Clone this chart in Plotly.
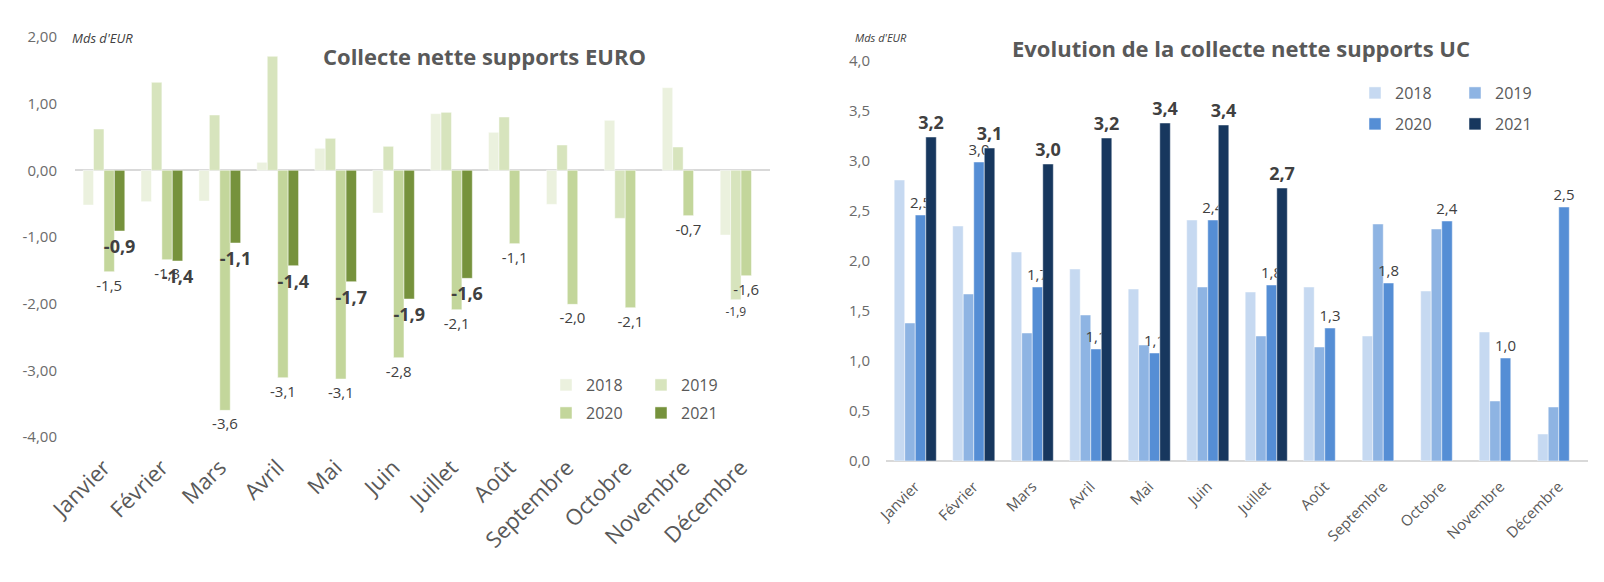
import plotly.graph_objects as go

months = ["Janvier", "Février", "Mars", "Avril", "Mai", "Juin", "Juillet",
          "Août", "Septembre", "Octobre", "Novembre", "Décembre"]
years = ["2018", "2019", "2020", "2021"]

# Collecte nette supports EURO (Mds d'EUR)
euro_2018 = [-0.52, -0.47, -0.46, 0.12, 0.33, -0.64, 0.85, 0.57, -0.51, 0.75, 1.24, -0.97]
euro_2019 = [0.62, 1.32, 0.83, 1.71, 0.48, 0.36, 0.87, 0.80, 0.38, -0.72, 0.35, -1.94]
euro_2020 = [-1.52, -1.34, -3.60, -3.11, -3.13, -2.81, -2.09, -1.10, -2.01, -2.06, -0.68, -1.58]
euro_2021 = [-0.91, -1.36, -1.09, -1.43, -1.67, -1.93, -1.62, None, None, None, None, None]

# Collecte nette supports UC (Mds d'EUR)
uc_2018 = [2.81, 2.35, 2.09, 1.92, 1.72, 2.41, 1.69, 1.74, 1.25, 1.70, 1.29, 0.27]
uc_2019 = [1.38, 1.67, 1.28, 1.46, 1.16, 1.74, 1.25, 1.14, 2.37, 2.32, 0.60, 0.54]
uc_2020 = [2.46, 2.99, 1.74, 1.12, 1.08, 2.41, 1.76, 1.33, 1.78, 2.40, 1.03, 2.54]
uc_2021 = [3.24, 3.13, 2.97, 3.23, 3.38, 3.36, 2.73, None, None, None, None, None]

euro_ticks = [-4, -3, -2, -1, 0, 1, 2]
euro_ticktext = ["-4,00", "-3,00", "-2,00", "-1,00", "0,00", "1,00", "2,00"]
uc_ticks = [0, 0.5, 1, 1.5, 2, 2.5, 3, 3.5, 4]
uc_ticktext = ["0,0", "0,5", "1,0", "1,5", "2,0", "2,5", "3,0", "3,5", "4,0"]

green = ["#EBF1DE", "#D7E4BD", "#C3D69B", "#76923C"]
blue = ["#C6D9F1", "#8EB4E3", "#558ED5", "#17375E"]

FONT = "Open Sans"
W, H = 1604, 582


def fmt(v):
    return "" if v is None else f"{v:.1f}".replace(".", ",")


def px_x(p):
    return p / W


def px_y(p):
    return 1 - p / H


fig = go.Figure()

euro_series = [euro_2018, euro_2019, euro_2020, euro_2021]
uc_series = [uc_2018, uc_2019, uc_2020, uc_2021]


def add_bar(yr, vals, color, text, tfont, xa, ya, leg):
    if text is not None:
        kw = dict(text=text, textposition="outside", textfont=tfont,
                  constraintext="none")
    else:
        kw = dict(textposition="none")
    fig.add_trace(go.Bar(
        x=months, y=vals, name=yr, marker_color=color,
        marker_line=dict(color="rgba(255,255,255,0.6)", width=0.8),
        cliponaxis=False, xaxis=xa, yaxis=ya, legend=leg,
        hoverinfo="x+y+name", **kw))


for i, (yr, vals) in enumerate(zip(years, euro_series)):
    text, tfont = None, None
    if i == 2:
        text = [fmt(v) for v in vals]
        tfont = dict(family=FONT, size=15, color="#404040")
    elif i == 3:
        text = [fmt(v) for v in vals]
        tfont = dict(family=FONT, size=18, color="#404040", weight="bold")
    elif i == 1:
        text = ["" if m != "Décembre" else fmt(v) for m, v in zip(months, vals)]
        tfont = dict(family=FONT, size=12, color="#404040")
    add_bar(yr, vals, green[i], text, tfont, "x", "y",
            "legend" if i < 2 else "legend2")

for i, (yr, vals) in enumerate(zip(years, uc_series)):
    text, tfont = None, None
    if i == 2:
        text = [fmt(v) for v in vals]
        tfont = dict(family=FONT, size=15, color="#404040")
    elif i == 3:
        text = [fmt(v) for v in vals]
        tfont = dict(family=FONT, size=18, color="#404040", weight="bold")
    add_bar(yr, vals, blue[i], text, tfont, "x2", "y2",
            "legend3" if i < 2 else "legend4")

legend_common = dict(orientation="h", bgcolor="rgba(0,0,0,0)",
                     font=dict(family=FONT, size=16, color="#595959"),
                     xanchor="left", yanchor="middle", itemclick=False,
                     traceorder="normal")

fig.update_layout(
    width=W, height=H,
    margin=dict(l=0, r=0, t=0, b=0, autoexpand=False),
    paper_bgcolor="white", plot_bgcolor="white",
    barmode="group", bargap=0.28, bargroupgap=0,
    font=dict(family=FONT, color="#595959"),
    xaxis=dict(domain=[px_x(75), px_x(770)], anchor="y", automargin=False,
               tickangle=-45, tickfont=dict(family=FONT, size=22, color="#595959"),
               showgrid=False, showline=False,
               ticks="outside", ticklen=8, tickcolor="rgba(0,0,0,0)"),
    yaxis=dict(domain=[px_y(437), px_y(37)], anchor="x", automargin=False,
               range=[-4, 2], tickvals=euro_ticks, ticktext=euro_ticktext,
               tickfont=dict(family=FONT, size=15, color="#6b6b6b"),
               showgrid=False, showline=False,
               ticks="outside", ticklen=14, tickcolor="rgba(0,0,0,0)",
               zeroline=True, zerolinecolor="#D9D9D9", zerolinewidth=1.5),
    xaxis2=dict(domain=[px_x(886), px_x(1588)], anchor="y2", automargin=False,
                tickangle=-45, tickfont=dict(family=FONT, size=15, color="#595959"),
                showgrid=False, showline=False,
                ticks="outside", ticklen=10, tickcolor="rgba(0,0,0,0)"),
    yaxis2=dict(domain=[px_y(461), px_y(61)], anchor="x2", automargin=False,
                range=[0, 4], tickvals=uc_ticks, ticktext=uc_ticktext,
                tickfont=dict(family=FONT, size=15, color="#6b6b6b"),
                showgrid=False, showline=False,
                ticks="outside", ticklen=12, tickcolor="rgba(0,0,0,0)",
                zeroline=True, zerolinecolor="#D9D9D9", zerolinewidth=1.5),
    legend=dict(legend_common, x=px_x(546), y=px_y(385), entrywidth=50),
    legend2=dict(legend_common, x=px_x(546), y=px_y(413), entrywidth=50),
    legend3=dict(legend_common, x=px_x(1355), y=px_y(93), entrywidth=55),
    legend4=dict(legend_common, x=px_x(1355), y=px_y(124), entrywidth=55),
    showlegend=True,
)

fig.add_annotation(text="Collecte nette supports EURO", x=px_x(484), y=px_y(56),
                   xref="paper", yref="paper", showarrow=False,
                   xanchor="center", yanchor="middle",
                   font=dict(family=FONT, size=22, color="#595959", weight="bold"))
fig.add_annotation(text="Evolution de la collecte nette supports UC", x=px_x(1241), y=px_y(48),
                   xref="paper", yref="paper", showarrow=False,
                   xanchor="center", yanchor="middle",
                   font=dict(family=FONT, size=22, color="#595959", weight="bold"))
fig.add_annotation(text="<i>Mds d'EUR</i>", x=px_x(70), y=px_y(38),
                   xref="paper", yref="paper", showarrow=False,
                   xanchor="left", yanchor="middle",
                   font=dict(family=FONT, size=13, color="#404040"))
fig.add_annotation(text="<i>Mds d'EUR</i>", x=px_x(853), y=px_y(37),
                   xref="paper", yref="paper", showarrow=False,
                   xanchor="left", yanchor="middle",
                   font=dict(family=FONT, size=11, color="#404040"))

fig.write_html("out.html")
